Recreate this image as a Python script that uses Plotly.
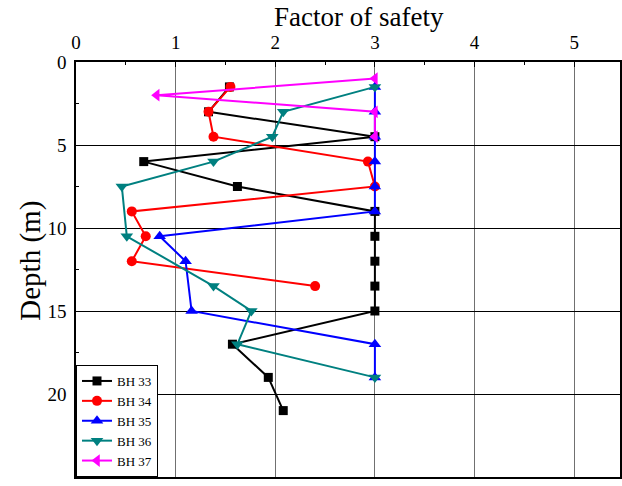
import plotly.graph_objects as go

bh33_x = [1.54, 1.33, 3.0, 0.68, 1.62, 3.0, 3.0, 3.0, 3.0, 3.0, 1.57, 1.93, 2.08]
bh33_y = [1.5, 3.0, 4.5, 6.0, 7.5, 9.0, 10.5, 12.0, 13.5, 15.0, 17.0, 19.0, 21.0]

bh34_x = [1.55, 1.33, 1.38, 2.93, 3.0, 0.56, 0.70, 0.56, 2.40]
bh34_y = [1.5, 3.0, 4.5, 6.0, 7.5, 9.0, 10.5, 12.0, 13.5]

bh35_x = [3.0, 3.0, 3.0, 3.0, 3.0, 3.0, 0.84, 1.10, 1.16, 3.0, 3.0]
bh35_y = [1.5, 3.0, 4.5, 6.0, 7.5, 9.0, 10.5, 12.0, 15.0, 17.0, 19.0]

bh36_x = [3.0, 2.08, 1.97, 1.38, 0.46, 0.51, 1.38, 1.76, 1.62, 3.0]
bh36_y = [1.5, 3.0, 4.5, 6.0, 7.5, 10.5, 13.5, 15.0, 17.0, 19.0]

bh37_x = [3.0, 0.81, 3.0, 3.0]
bh37_y = [1.0, 2.0, 3.0, 4.5]

series = [
    ("BH 33", bh33_x, bh33_y, "black", "square", 9),
    ("BH 34", bh34_x, bh34_y, "red", "circle", 10),
    ("BH 35", bh35_x, bh35_y, "blue", "triangle-up", 11),
    ("BH 36", bh36_x, bh36_y, "#008080", "triangle-down", 11),
    ("BH 37", bh37_x, bh37_y, "magenta", "triangle-left", 11),
]

fig = go.Figure()
for name, xs, ys, col, sym, sz in series:
    fig.add_trace(go.Scatter(
        x=xs, y=ys, name=name, mode="lines+markers",
        line=dict(color=col, width=2),
        marker=dict(symbol=sym, size=sz, color=col),
    ))

font = "Liberation Serif"
fig.update_layout(
    width=622, height=486,
    margin=dict(l=76, r=0, t=62, b=9),
    paper_bgcolor="white", plot_bgcolor="white",
    font=dict(family=font, color="black"),
    showlegend=True,
    legend=dict(
        x=0, y=0, xanchor="left", yanchor="bottom",
        bgcolor="white", bordercolor="black", borderwidth=1,
        font=dict(family=font, size=13, color="black"),
        tracegroupgap=0, itemwidth=30,
    ),
    xaxis=dict(
        side="top", range=[0, 5.46], tickvals=[0, 1, 2, 3, 4, 5],
        tickfont=dict(family=font, size=19, color="black"),
        ticklabelstandoff=4,
        showgrid=True, gridcolor="#707070", gridwidth=1,
        showline=True, linecolor="black", linewidth=1.5, mirror=True,
        ticks="inside", ticklen=5, tickcolor="black",
        minor=dict(dtick=0.5, ticks="inside", ticklen=3, tickcolor="black", showgrid=False),
        zeroline=False,
    ),
    yaxis=dict(
        range=[25, 0], tickvals=[0, 5, 10, 15, 20, 25],
        tickfont=dict(family=font, size=19, color="black"),
        ticklabelstandoff=4,
        showgrid=True, gridcolor="black", gridwidth=1,
        showline=True, linecolor="black", linewidth=1.5, mirror=True,
        ticks="inside", ticklen=5, tickcolor="black",
        minor=dict(dtick=2.5, ticks="inside", ticklen=3, tickcolor="black", showgrid=False),
        zeroline=False,
    ),
    annotations=[
        dict(text="Factor of safety", xref="paper", yref="paper",
             x=0.52, y=1, yshift=28, xanchor="center", yanchor="bottom",
             showarrow=False, font=dict(family=font, size=27, color="black")),
        dict(text="Depth (m)", xref="paper", yref="paper",
             x=0, xshift=-27, y=0.52, xanchor="right", yanchor="middle",
             textangle=-90, showarrow=False,
             font=dict(family=font, size=29, color="black")),
    ],
)

fig.write_html("out.html")
